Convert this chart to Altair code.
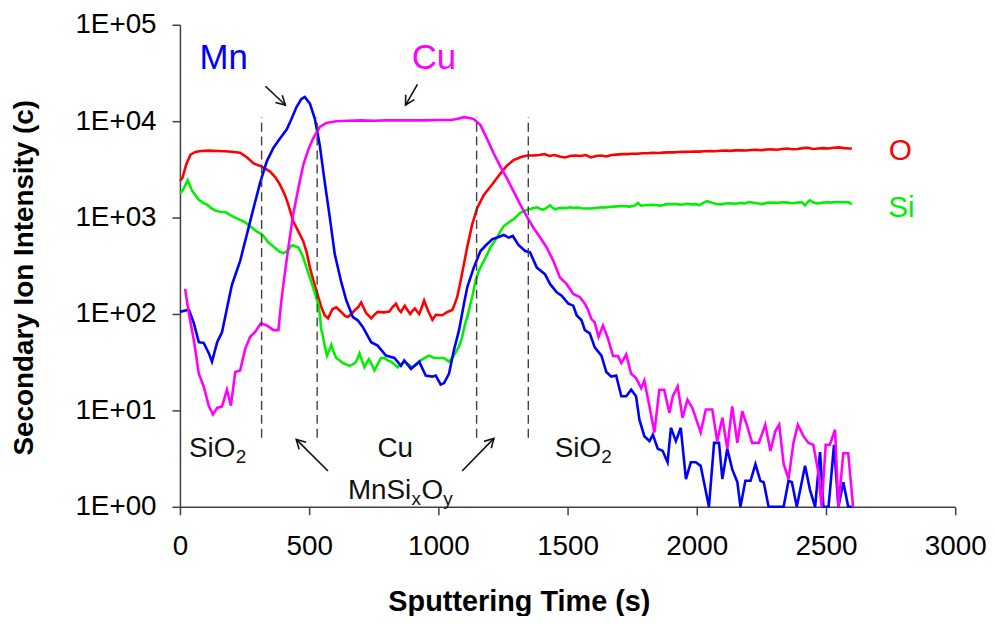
import altair as alt
import pandas as pd

# ---------------- data ----------------
o_time = [0, 10, 25, 41, 60, 80, 110, 150, 190, 233,
          260, 285, 317, 349, 370, 387, 405, 419, 438, 458,
          477, 490, 503, 515, 528, 547, 560, 573, 590, 605,
          624, 640, 650, 663, 676, 690, 701, 720, 740, 752,
          765, 790, 810, 823, 836, 846, 855, 870, 880, 891,
          900, 909, 918, 926, 936, 945, 960, 977, 990, 1015,
          1035, 1054, 1060, 1073, 1086, 1099, 1112, 1131, 1150, 1176,
          1208, 1240, 1265, 1291, 1320, 1345, 1370, 1390, 1410, 1430,
          1450, 1470, 1490, 1510, 1530, 1550, 1570, 1590, 1610, 1630,
          1650, 1670, 1690, 1710, 1730, 1750, 1770, 1790, 1810, 1830,
          1850, 1870, 1890, 1910, 1930, 1950, 1970, 1990, 2010, 2030,
          2050, 2070, 2090, 2110, 2130, 2150, 2170, 2190, 2210, 2230,
          2250, 2270, 2290, 2310, 2330, 2350, 2370, 2390, 2410, 2430,
          2450, 2470, 2490, 2510, 2530, 2550, 2570, 2590, 2600]
o_counts = [2400, 2600, 3600, 4500, 4800, 4900, 4950, 4900, 4850, 4700,
            4200, 3650, 3380, 3000, 2600, 2200, 1750, 1370, 920, 720,
            570, 440, 303, 230, 175, 118, 97, 90, 112, 117,
            105, 95, 93, 100, 109, 118, 132, 103, 90, 98,
            105, 104, 106, 118, 128, 112, 105, 122, 110, 100,
            108, 114, 106, 100, 118, 138, 108, 87, 98, 97,
            105, 110, 120, 150, 220, 330, 500, 850, 1250, 1720,
            2200, 2860, 3450, 3950, 4250, 4400, 4420, 4450, 4550, 4350,
            4450, 4300, 4200, 4350, 4400, 4350, 4450, 4200, 4350, 4400,
            4300, 4450, 4500, 4550, 4550, 4600, 4600, 4650, 4650, 4700,
            4680, 4720, 4750, 4750, 4780, 4800, 4820, 4850, 4830, 4880,
            4900, 4870, 4930, 4950, 4920, 4980, 5000, 4970, 5020, 5050,
            5000, 5080, 5100, 5050, 5150, 5200, 5120, 5150, 5250, 5300,
            5150, 5200, 5250, 5200, 5300, 5350, 5250, 5200, 5200]

si_time = [0, 10, 30, 47, 60, 73, 90, 105, 120, 137,
           155, 176, 195, 214, 235, 253, 270, 285, 300, 317,
           330, 342, 358, 374, 387, 400, 410, 419, 430, 438,
           448, 458, 468, 477, 487, 496, 505, 515, 525, 535,
           541, 547, 551, 560, 569, 578, 586, 595, 605, 618,
           631, 643, 656, 669, 682, 695, 704, 714, 722, 731,
           742, 753, 765, 778, 791, 804, 817, 830, 842, 855,
           868, 884, 900, 916, 932, 948, 964, 983, 1002, 1022,
           1041, 1054, 1067, 1080, 1092, 1104, 1112, 1122, 1131, 1144,
           1157, 1176, 1190, 1201, 1214, 1227, 1240, 1253, 1272, 1291,
           1304, 1317, 1333, 1349, 1365, 1381, 1394, 1406, 1419, 1432,
           1440, 1451, 1465, 1480, 1495, 1509, 1525, 1540, 1555, 1570,
           1585, 1599, 1615, 1630, 1645, 1660, 1680, 1701, 1720, 1740,
           1760, 1772, 1785, 1800, 1820, 1840, 1860, 1880, 1900, 1919,
           1940, 1960, 1980, 2000, 2009, 2025, 2041, 2060, 2075, 2092,
           2110, 2130, 2150, 2170, 2185, 2201, 2220, 2240, 2253, 2270,
           2290, 2310, 2330, 2350, 2370, 2390, 2407, 2419, 2430, 2438,
           2450, 2465, 2483, 2500, 2520, 2540, 2560, 2586, 2600]
si_counts = [1800, 1900, 2450, 1900, 1700, 1530, 1420, 1360, 1260, 1180,
             1150, 1140, 1060, 1000, 940, 890, 820, 760, 710, 670,
             610, 550, 510, 470, 440, 427, 440, 460, 510, 515,
             500, 490, 440, 385, 320, 270, 230, 190, 155, 128,
             100, 68, 63, 47, 37, 42, 48, 40, 35, 33,
             31, 30, 29, 30, 32, 39, 33, 28, 31, 34,
             30, 26, 30, 35, 35, 33, 32, 30, 28, 30,
             32, 30, 28, 30, 33, 35, 37, 35, 35, 35,
             32, 35, 40, 46, 58, 80, 93, 120, 150, 222,
             282, 356, 420, 490, 550, 620, 720, 815, 890, 960,
             1040, 1120, 1180, 1210, 1250, 1280, 1230, 1210, 1260, 1340,
             1280, 1220, 1250, 1260, 1250, 1280, 1260, 1270, 1250, 1240,
             1240, 1250, 1260, 1280, 1270, 1290, 1300, 1310, 1320, 1300,
             1330, 1420, 1330, 1340, 1360, 1350, 1330, 1370, 1380, 1380,
             1360, 1390, 1370, 1380, 1340, 1420, 1480, 1420, 1380, 1370,
             1400, 1410, 1390, 1420, 1400, 1450, 1420, 1400, 1380, 1420,
             1430, 1420, 1440, 1430, 1410, 1430, 1440, 1340, 1450, 1510,
             1440, 1400, 1420, 1440, 1430, 1450, 1440, 1450, 1380]

mn_time = [0, 15, 35, 54, 73, 92, 112, 124, 144, 163,
           182, 201, 233, 259, 285, 310, 336, 362, 387, 413,
           432, 451, 470, 483, 503, 522, 541, 560, 580, 599,
           624, 644, 669, 688, 708, 740, 765, 797, 830, 855,
           868, 894, 926, 951, 977, 990, 1009, 1022, 1041, 1060,
           1080, 1099, 1112, 1137, 1163, 1182, 1208, 1233, 1253, 1272,
           1288, 1310, 1336, 1355, 1381, 1413, 1432, 1458, 1477, 1503,
           1522, 1535, 1554, 1567, 1586, 1605, 1631, 1650, 1669, 1688,
           1708, 1727, 1746, 1765, 1778, 1797, 1817, 1830, 1849, 1868,
           1887, 1900, 1919, 1938, 1958, 1977, 1996, 2015, 2047, 2067,
           2086, 2099, 2118, 2137, 2157, 2169, 2188, 2208, 2227, 2246,
           2259, 2278, 2336, 2355, 2368, 2387, 2419, 2438, 2458, 2477,
           2490, 2510, 2531, 2548, 2567, 2586, 2600]
mn_counts = [105, 108, 110, 80, 51, 50, 39, 32, 51, 65,
             115, 200, 356, 670, 1260, 2290, 3830, 5300, 6600, 8200,
             10600, 14000, 17000, 17800, 15200, 10600, 5650, 2360, 1000, 420,
             215, 138, 93, 86, 73, 51, 47, 37, 35, 29,
             33, 27, 32, 23, 22.4, 23, 18.5, 19.2, 24, 42,
             68, 128, 190, 303, 450, 510, 595, 630, 660, 620,
             645, 520, 450, 435, 303, 258, 205, 168, 155, 128,
             122, 97, 86, 68, 63, 45, 37, 25, 22.4, 23,
             14, 14, 16.4, 14, 8, 5.4, 4.8, 5.6, 4.0, 3.8,
             2.9, 6.6, 4.8, 6.6, 1.94, 2.9, 2.9, 2.66, 1, 4.6,
             4.6, 1.94, 4.0, 2.46, 1.8, 1, 1.86, 1.86, 2.77, 1.86,
             1.8, 1, 1, 1.86, 1.8, 1, 2.66, 1.5, 1, 3.7,
             1, 1, 4.4, 1, 1.8, 1, 1]

cu_time = [20, 35, 54, 73, 92, 112, 128, 144, 163, 182,
           197, 214, 233, 253, 272, 291, 313, 336, 362, 381,
           390, 400, 419, 438, 458, 477, 496, 515, 541, 567,
           605, 650, 700, 750, 800, 850, 900, 950, 1000, 1050,
           1075, 1099, 1120, 1137, 1163, 1188, 1214, 1240, 1265, 1291,
           1317, 1342, 1368, 1394, 1419, 1445, 1470, 1496, 1522, 1547,
           1567, 1580, 1592, 1605, 1620, 1637, 1656, 1676, 1695, 1708,
           1727, 1746, 1765, 1785, 1797, 1817, 1836, 1855, 1874, 1894,
           1907, 1926, 1945, 1964, 1983, 2015, 2035, 2060, 2079, 2099,
           2118, 2137, 2157, 2176, 2195, 2214, 2240, 2265, 2285, 2304,
           2319, 2336, 2355, 2374, 2391, 2413, 2432, 2451, 2470, 2483,
           2499, 2515, 2535, 2548, 2567, 2586, 2605]
cu_counts = [182, 100, 53, 24, 17.7, 11, 9.1, 10.6, 11, 16.4,
             11.2, 25, 26, 44, 58, 65, 80, 76, 68, 68,
             120, 200, 480, 1070, 2000, 3500, 5000, 6600, 8700, 9600,
             10000, 10100, 10200, 10100, 10200, 10200, 10200, 10200, 10300, 10300,
             10600, 11000, 10800, 10500, 9100, 6600, 4650, 3380, 2560, 1870,
             1360, 1030, 785, 620, 490, 356, 240, 205, 161, 150,
             128, 109, 89, 82, 58, 76, 56, 36.6, 36.6, 31,
             38, 24, 21.6, 17, 20.4, 11, 5.9, 16.4, 16.4, 9.4,
             14, 17.7, 8.4, 12.9, 10.6, 5.9, 10.2, 10.2, 4.8, 8.4,
             4.0, 11, 4.6, 9.8, 6.9, 4.6, 4.6, 7.1, 3.8, 6.1,
             7.1, 2.8, 1.94, 4.6, 7.1, 5.4, 4.6, 4.4, 2.3, 1,
             4.4, 4.4, 6.3, 1, 3.6, 3.6, 1]

series_names = ["O", "Si", "Mn", "Cu"]
series_colors = ["#FF0000", "#00F000", "#0000FF", "#FF00FF"]

x_ticks = [0, 500, 1000, 1500, 2000, 2500, 3000]
y_ticks = [1, 10, 100, 1000, 10000, 100000]

# interface (dashed) lines: time, bottom, top
interface_time = [316, 531, 1148, 1348]
interface_low = 5.2
interface_high = 11000

# series name labels: text, time, counts (baseline), colour, size
name_text = ["Mn", "Cu", "O", "Si"]
name_time = [169, 983, 2788, 2792]
name_counts = [34400, 34400, 3990, 1010]
name_color = ["#0000FF", "#FF00FF", "#FF0000", "#00F000"]
name_size = [35, 35, 30, 30]

# arrows: tail (time, counts) -> tip (time, counts), head angle (deg)
arrow_t0 = [331, 919, 573, 1092]
arrow_c0 = [23000, 24100, 2.35, 2.35]
arrow_t1 = [408, 873, 450, 1215]
arrow_c1 = [14700, 14700, 5.0, 5.13]
arrow_angle = [133.5, 209.7, 315, 44.1]

# ---------------- build tables ----------------
frames = []
for name, ts, cs in [("O", o_time, o_counts), ("Si", si_time, si_counts),
                     ("Mn", mn_time, mn_counts), ("Cu", cu_time, cu_counts)]:
    assert len(ts) == len(cs), name
    frames.append(pd.DataFrame({"series": name, "time": ts, "counts": cs}))
df = pd.concat(frames, ignore_index=True)

x_scale = alt.Scale(domain=[0, 3000], nice=False, zero=False)
y_scale = alt.Scale(type="log", domain=[1, 100000], nice=False)

FONT = "Liberation Sans, Arial, sans-serif"
AX = "#404040"

x_axis = alt.Axis(values=x_ticks, format="d", title="Sputtering Time (s)", grid=False,
                  labelFontSize=28, labelFont=FONT, labelColor="#000000", labelPadding=18,
                  labelFlush=False, labelOverlap=False,
                  tickSize=8, tickColor=AX, tickWidth=1.5, domainColor=AX, domainWidth=1.5,
                  titleFontSize=29, titleFont=FONT, titleFontWeight="bold", titleColor="#000000",
                  titleX=341, titleY=104, titleBaseline="alphabetic", titleAlign="center")
y_axis = alt.Axis(values=y_ticks, title="Secondary Ion Intensity (c)", grid=False,
                  labelExpr="'1E+0' + round(log(datum.value) / LN10)",
                  labelFontSize=28, labelFont=FONT, labelColor="#000000", labelPadding=16,
                  labelFlush=False, labelOverlap=False,
                  tickSize=8, tickColor=AX, tickWidth=1.5, domainColor=AX, domainWidth=1.5,
                  titleFontSize=28, titleFont=FONT, titleFontWeight="bold", titleColor="#000000",
                  titleAngle=270, titleX=-148, titleY=254, titleBaseline="alphabetic",
                  titleAlign="center")


def X(field):
    return alt.X(field, scale=x_scale, axis=x_axis)


def Y(field):
    return alt.Y(field, scale=y_scale, axis=y_axis)


lines = alt.Chart(df).mark_line(strokeWidth=2.6).encode(
    x=X("time:Q"),
    y=Y("counts:Q"),
    color=alt.Color("series:N", scale=alt.Scale(domain=series_names, range=series_colors),
                    legend=None),
)

rules_df = pd.DataFrame({"time": interface_time,
                         "counts": [interface_low] * len(interface_time),
                         "hi": [interface_high] * len(interface_time)})
rules = alt.Chart(rules_df).mark_rule(strokeDash=[9, 5], color="#404040", strokeWidth=1.4).encode(
    x=X("time:Q"),
    y=Y("counts:Q"),
    y2="hi:Q",
)

arrows_df = pd.DataFrame({"time": arrow_t0, "counts": arrow_c0, "time2": arrow_t1,
                          "counts2": arrow_c1, "angle": arrow_angle})
shafts = alt.Chart(arrows_df).mark_rule(color="#111111", strokeWidth=1.6).encode(
    x=X("time:Q"),
    y=Y("counts:Q"),
    x2="time2:Q", y2="counts2:Q",
)
heads_df = pd.DataFrame({"time": arrow_t1, "counts": arrow_c1, "angle": arrow_angle})
heads = alt.Chart(heads_df).mark_point(shape="M -0.55 1 L 0 0 L 0.55 1", filled=False,
                                       color="#111111", strokeWidth=1.6, size=330,
                                       opacity=1).encode(
    x=X("time:Q"),
    y=Y("counts:Q"),
    angle=alt.Angle("angle:Q", scale=None),
)

names_df = pd.DataFrame({"time": name_time, "counts": name_counts, "label": name_text,
                         "color": name_color, "size": name_size})
names = alt.Chart(names_df).mark_text(font=FONT, align="center", baseline="alphabetic").encode(
    x=X("time:Q"),
    y=Y("counts:Q"),
    text="label:N",
    color=alt.Color("color:N", scale=None),
    size=alt.Size("size:Q", scale=None),
)


def piece(text, t, c, size, dx=0, dy=0, align="left"):
    d = pd.DataFrame({"time": [t], "counts": [c], "label": [text]})
    return alt.Chart(d).mark_text(font=FONT, fontSize=size, align=align, baseline="alphabetic",
                                  dx=dx, dy=dy, color="#111111").encode(
        x=X("time:Q"),
        y=Y("counts:Q"),
        text="label:N",
    )


region_layers = [
    piece("SiO", 35, 3.27, 28), piece("2", 35, 3.27, 19, dx=47, dy=6),
    piece("Cu", 833, 3.27, 28, align="center"),
    piece("SiO", 1450, 3.27, 28), piece("2", 1450, 3.27, 19, dx=47, dy=6),
    piece("MnSi", 650, 1.21, 28), piece("x", 650, 1.21, 19, dx=64, dy=6),
    piece("O", 650, 1.21, 28, dx=74), piece("y", 650, 1.21, 19, dx=96, dy=6),
]

chart = alt.layer(lines, rules, shafts, heads, names, *region_layers).properties(
    width=780, height=485,
    background="white",
    autosize=alt.AutoSizeParams(type="none"),
    padding={"left": 173, "top": 15, "right": 33, "bottom": 108},
).configure_view(stroke=None)

chart.save("out.html", embed_options={"renderer": "svg", "actions": False})
